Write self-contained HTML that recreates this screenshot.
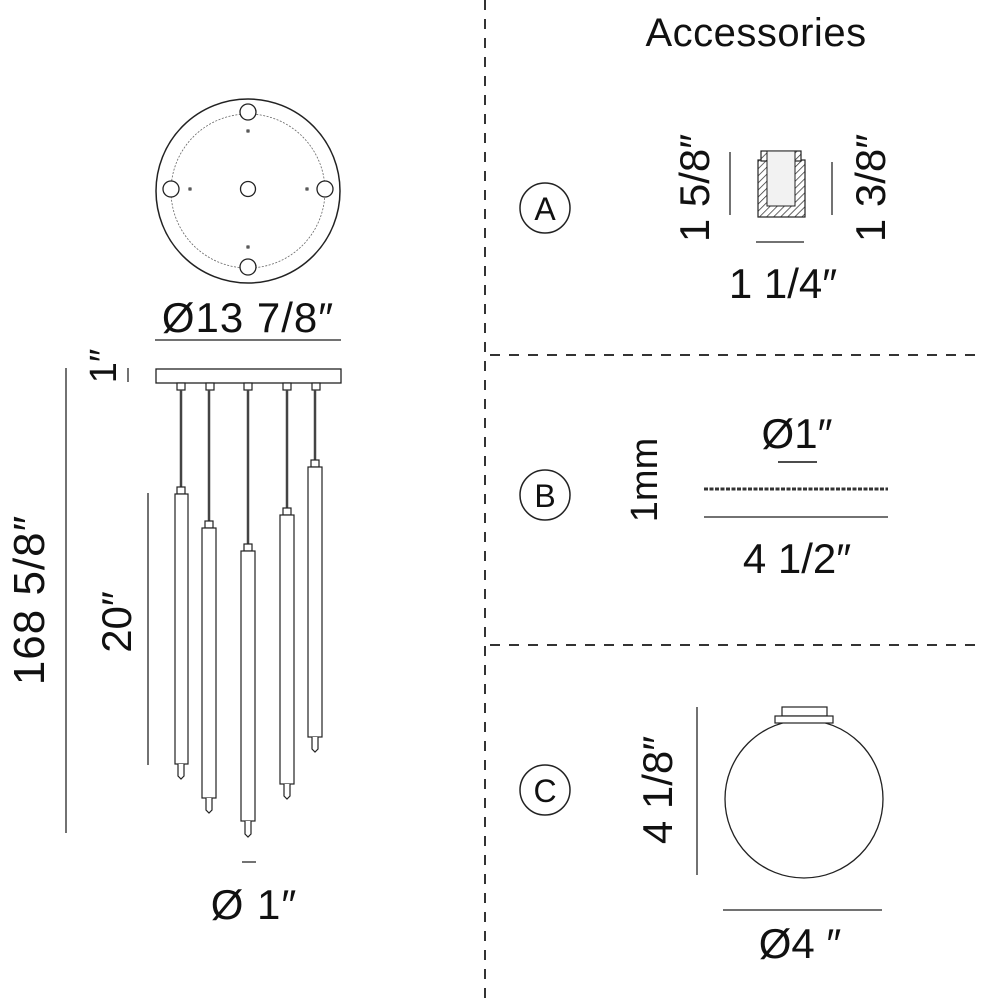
<!DOCTYPE html>
<html><head><style>
html,body{margin:0;padding:0;background:#fff;}
svg{display:block;}
text{font-family:"Liberation Sans",sans-serif;fill:#111;}
</style></head><body>
<svg width="981" height="1000" viewBox="0 0 981 1000" xmlns="http://www.w3.org/2000/svg">
<defs>
<pattern id="hatch" width="5" height="5" patternUnits="userSpaceOnUse" patternTransform="rotate(45)">
<rect width="5" height="5" fill="#fff"/><line x1="0" y1="0" x2="0" y2="5" stroke="#333" stroke-width="1.5"/>
</pattern>
</defs>
<line x1="485" y1="0" x2="485" y2="1000" stroke="#333" stroke-width="2" stroke-dasharray="10,9"/>
<line x1="490" y1="355" x2="981" y2="355" stroke="#333" stroke-width="2" stroke-dasharray="10,9"/>
<line x1="490" y1="645" x2="981" y2="645" stroke="#333" stroke-width="2" stroke-dasharray="10,9"/>

<g fill="none" stroke="#222">
<circle cx="248" cy="191" r="92" stroke-width="1.5"/>
<circle cx="248" cy="191" r="77" stroke-width="0.8" stroke-dasharray="2,1.5" stroke="#666"/>
<circle cx="248" cy="112" r="8" fill="#fff" stroke-width="1.3"/>
<circle cx="248" cy="267" r="8" fill="#fff" stroke-width="1.3"/>
<circle cx="171" cy="189" r="8" fill="#fff" stroke-width="1.3"/>
<circle cx="325" cy="189" r="8" fill="#fff" stroke-width="1.3"/>
<circle cx="248" cy="189" r="7.5" stroke-width="1.3"/>
<rect x="247" y="130" width="2" height="2"/><rect x="247" y="246" width="2" height="2"/>
<rect x="189" y="188" width="2" height="2"/><rect x="306" y="188" width="2" height="2"/>
</g>
<text x="248" y="332" font-size="42" letter-spacing="1" text-anchor="middle">Ø13 7/8″</text>
<line x1="155" y1="340" x2="341" y2="340" stroke="#444" stroke-width="1.5"/>

<rect x="156" y="369" width="185" height="14" fill="#fff" stroke="#222" stroke-width="1.3"/>
<g fill="#fff" stroke="#222" stroke-width="1.2">
<rect x="177" y="383" width="8" height="7"/><rect x="206" y="383" width="8" height="7"/>
<rect x="244" y="383" width="8" height="7"/><rect x="283" y="383" width="8" height="7"/>
<rect x="312" y="383" width="8" height="7"/>
</g>
<g stroke="#444" stroke-width="2.5">
<line x1="181" y1="390" x2="181" y2="487"/><line x1="209" y1="390" x2="209" y2="521"/>
<line x1="248" y1="390" x2="248" y2="544"/><line x1="287" y1="390" x2="287" y2="508"/>
<line x1="315" y1="390" x2="315" y2="460"/>
</g>
<g fill="#fff" stroke="#222" stroke-width="1.2">
<rect x="177" y="487" width="8" height="7"/><rect x="175" y="494" width="13" height="270"/>
<path d="M178 764v12l3 3l3-3v-12"/>
<rect x="205" y="521" width="8" height="7"/><rect x="202" y="528" width="14" height="270"/>
<path d="M206 798v12l3 3l3-3v-12"/>
<rect x="244" y="544" width="8" height="7"/><rect x="241" y="551" width="14" height="270"/>
<path d="M245 821v13l3 3l3-3v-13"/>
<rect x="283" y="508" width="8" height="7"/><rect x="280" y="515" width="14" height="269"/>
<path d="M284 784v12l3 3l3-3v-12"/>
<rect x="311" y="460" width="8" height="7"/><rect x="308" y="467" width="14" height="270"/>
<path d="M312 737v12l3 3l3-3v-12"/>
</g>

<line x1="66" y1="368" x2="66" y2="833" stroke="#444" stroke-width="1.5"/>
<text transform="translate(44,600) rotate(-90)" font-size="44" letter-spacing="1" text-anchor="middle">168  5/8″</text>
<line x1="128" y1="368" x2="128" y2="382" stroke="#444" stroke-width="1.5"/>
<text transform="translate(116,366) rotate(-90)" font-size="38" text-anchor="middle">1″</text>
<line x1="148" y1="493" x2="148" y2="765" stroke="#444" stroke-width="1.5"/>
<text transform="translate(131,622) rotate(-90)" font-size="42" text-anchor="middle">20″</text>
<line x1="242" y1="862" x2="256" y2="862" stroke="#444" stroke-width="1.5"/>
<text x="254" y="919" font-size="42" letter-spacing="1" text-anchor="middle">Ø 1″</text>

<text x="756" y="46" font-size="40" letter-spacing="0.5" text-anchor="middle">Accessories</text>
<g fill="#fff" stroke="#222" stroke-width="1.5">
<circle cx="545" cy="208" r="25"/><circle cx="545" cy="495" r="25"/><circle cx="545" cy="790" r="25"/>
</g>
<text x="545" y="220" font-size="32" text-anchor="middle">A</text>
<text x="545" y="507" font-size="32" text-anchor="middle">B</text>
<text x="545" y="802" font-size="32" text-anchor="middle">C</text>

<text transform="translate(709,188) rotate(-90)" font-size="42" text-anchor="middle">1 5/8″</text>
<line x1="730" y1="152" x2="730" y2="215" stroke="#444" stroke-width="1.5"/>
<rect x="758" y="160" width="47" height="57" fill="url(#hatch)" stroke="#222" stroke-width="1.2"/>
<rect x="761" y="151" width="40" height="10" fill="url(#hatch)" stroke="#222" stroke-width="1.2"/>
<rect x="767" y="151" width="28" height="55" fill="#f2f2f2" stroke="#222" stroke-width="1"/>
<line x1="832" y1="162" x2="832" y2="215" stroke="#444" stroke-width="1.5"/>
<text transform="translate(885,188) rotate(-90)" font-size="42" text-anchor="middle">1 3/8″</text>
<line x1="756" y1="242" x2="804" y2="242" stroke="#444" stroke-width="1.5"/>
<text x="783" y="298" font-size="42" text-anchor="middle">1 1/4″</text>

<text transform="translate(657,480) rotate(-90)" font-size="38" text-anchor="middle">1mm</text>
<text x="797" y="448" font-size="42" text-anchor="middle">Ø1″</text>
<line x1="778" y1="462" x2="817" y2="462" stroke="#111" stroke-width="1.5"/>
<line x1="704" y1="489" x2="888" y2="489" stroke="#333" stroke-width="3" stroke-dasharray="4,1.5"/>
<line x1="704" y1="517" x2="888" y2="517" stroke="#444" stroke-width="1.5"/>
<text x="797" y="573" font-size="42" text-anchor="middle">4 1/2″</text>

<text transform="translate(672,790) rotate(-90)" font-size="42" text-anchor="middle">4 1/8″</text>
<line x1="697" y1="707" x2="697" y2="875" stroke="#444" stroke-width="1.5"/>
<circle cx="804" cy="799" r="79" fill="#fff" stroke="#222" stroke-width="1.3"/>
<rect x="782" y="707" width="45" height="9" fill="#fff" stroke="#222" stroke-width="1.2"/>
<rect x="775" y="716" width="58" height="7" fill="#fff" stroke="#222" stroke-width="1.2"/>
<line x1="723" y1="910" x2="882" y2="910" stroke="#444" stroke-width="1.5"/>
<text x="800" y="958" font-size="42" text-anchor="middle">Ø4 ″</text>
</svg>
</body></html>
